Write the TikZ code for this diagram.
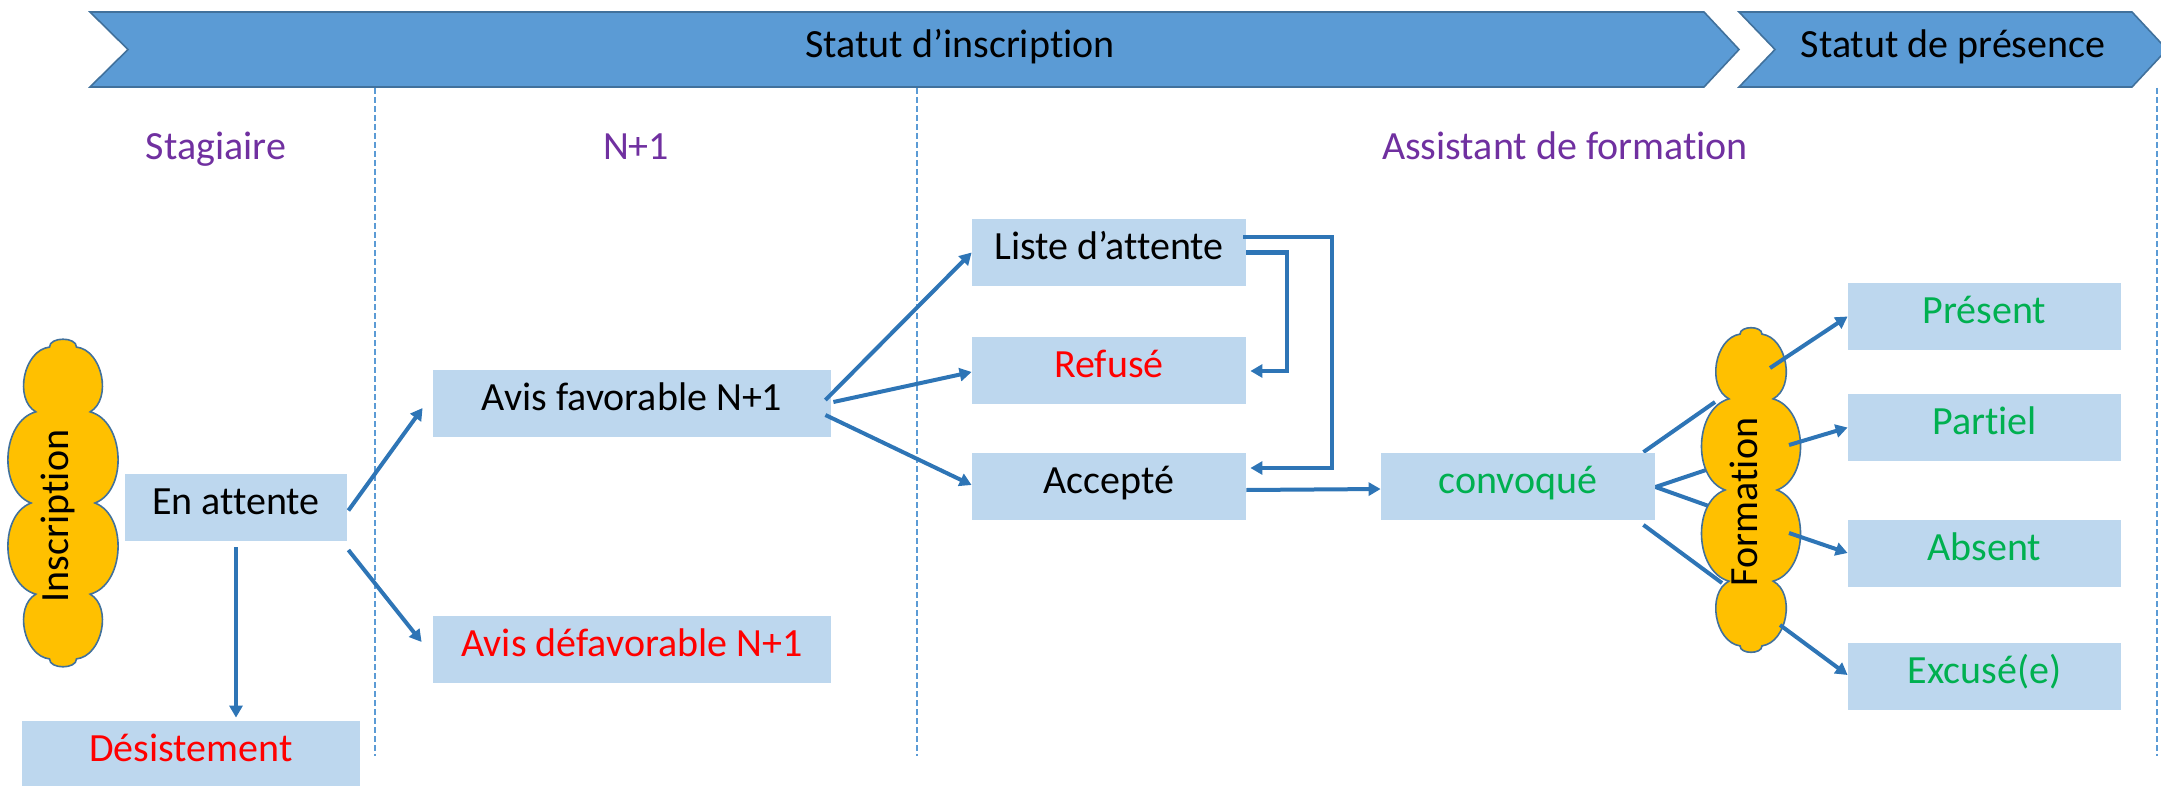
\documentclass[tikz,border=0pt]{standalone}
\usepackage{fontspec}
\setmainfont{Carlito}[Ligatures=NoCommon]
\usetikzlibrary{arrows.meta,calc,backgrounds}
\definecolor{boxblue}{HTML}{BDD7EE}
\definecolor{banblue}{HTML}{5B9BD5}
\definecolor{banedge}{HTML}{41719C}
\definecolor{arrblue}{HTML}{2E75B6}
\definecolor{purp}{HTML}{7030A0}
\definecolor{grn}{HTML}{00B050}
\definecolor{cloudfill}{HTML}{FFC000}
\newcommand\mycloud[3]{%
\begin{scope}[shift={(#1.center)}]
\filldraw[cloudstyle] ({#2*sin(-25)},{-#3*cos(-25)})
  \foreach \ang/\bb in {25/90,58/72,90/72,122/72,155/72,205/90,238/72,270/72,302/72,335/72}
  { to[bend left=\bb] ({#2*sin(\ang)},{-#3*cos(\ang)}) } -- cycle;
\end{scope}}
\begin{document}
\begin{tikzpicture}[x=0.5pt,y=-0.5pt,
  every node/.style={font=\fontsize{20}{24}\selectfont},
  stbox/.style={fill=boxblue, inner sep=0pt, minimum height=33.5pt, text height=0.72em, text depth=0pt},
  conn/.style={draw=arrblue, line width=2pt, -{Triangle[length=6pt,width=6.5pt]}},
  plainline/.style={draw=arrblue, line width=2pt},
  divider/.style={draw=banblue, line width=0.6pt, dash pattern=on 3pt off 1.5pt},
  banner/.style={fill=banblue, draw=banedge, line width=0.8pt},
  cloudstyle/.style={fill=cloudfill, draw=banedge, line width=0.8pt},
  anchorbox/.style={inner sep=0pt, minimum width=50pt, minimum height=165pt},
  vtext/.style={rotate=90, text height=0.72em, text depth=0pt, inner sep=0pt},
  hdr/.style={text=purp, text height=0.72em, text depth=0pt},
  bantext/.style={text height=0.72em, text depth=0pt}
]
\useasboundingbox (0,0) rectangle (2161,786);
% banners
\draw[banner] (90,12) -- (1704,12) -- (1739,49.5) -- (1704,87) -- (90,87) -- (128,49.5) -- cycle;
\draw[banner] (1739,12) -- (2132,12) -- (2167,49.5) -- (2132,87) -- (1739,87) -- (1775,49.5) -- cycle;
\node[bantext] (b1t) at (960,50) {Statut d’inscription};
\node[bantext] (b2t) at (1953,50) {Statut de présence};
% dividers
\draw[divider] (375,88) -- (375,756);
\draw[divider] (917,88) -- (917,756);
\draw[divider] (2157,88) -- (2157,756);
% headers
\node[hdr] (h1) at (216,152) {Stagiaire};
\node[hdr] (h2) at (636,152) {N+1};
\node[hdr] (h3) at (1565,152) {Assistant de formation};
% boxes
\node[stbox, minimum width=111pt] (att) at (236,507.5) {En attente};
\node[stbox, minimum width=169pt, text=red] (des) at (191,754.5) {Désistement};
\node[stbox, minimum width=199pt] (avf) at (632,403.5) {Avis favorable N+1};
\node[stbox, minimum width=199pt, text=red] (avd) at (632,649.5) {Avis défavorable N+1};
\node[stbox, minimum width=137pt] (lst) at (1109,252.5) {Liste d’attente};
\node[stbox, minimum width=137pt, text=red] (ref) at (1109,370) {Refusé};
\node[stbox, minimum width=137pt] (acc) at (1109,486.5) {Accepté};
\node[stbox, minimum width=137pt, text=grn] (cnv) at (1518,486) {convoqué};
\node[stbox, minimum width=136.5pt, text=grn] (pre) at (1984.5,316.5) {Présent};
\node[stbox, minimum width=136.5pt, text=grn] (par) at (1984.5,427.5) {Partiel};
\node[stbox, minimum width=136.5pt, text=grn] (abs) at (1984.5,553.5) {Absent};
\node[stbox, minimum width=136.5pt, text=grn] (exc) at (1984.5,676.5) {Excusé(e)};
% clouds
\node[anchorbox] (ins) at (63,503) {};
\mycloud{ins}{32}{172}
\node[vtext] (inst) at (61,516) {Inscription};
\node[anchorbox] (frm) at (1751,490) {};
\mycloud{frm}{26}{172}
\node[vtext] (frmt) at (1750,502) {Formation};
% connectors
\draw[conn] ($(att.east)+(1,3)$) -- ($(avf.west)+(-10,4.5)$);
\draw[conn] ($(att.east)+(1,42.5)$) -- ($(avd.west)+(-11,-7.5)$);
\draw[conn] ($(att.south)+(0,6)$) -- ($(att.south |- des.north)+(0,-3)$);
\draw[conn] ($(avf.east)+(-6,-3.5)$) -- (lst.west);
\draw[conn] ($(avf.east)+(2,-1.5)$) -- ($(ref.west)+(0,2)$);
\draw[conn] ($(avf.east)+(-6,11.5)$) -- ($(acc.west)+(0,-1.5)$);
\draw[conn] ($(lst.east)+(-3,-15.5)$) -- ++(89,0) |- ($(acc.east)+(4,-18.5)$);
\draw[conn] (lst.east) -- ++(41,0) |- ($(ref.east)+(4,1)$);
\draw[conn] ($(acc.east)+(0,3.5)$) -- ($(cnv.west)+(0,3)$);
\begin{scope}[on background layer]
\draw[plainline] ($(cnv.north east)+(-12,0)$) -- ($(frm.center)+(-36,-88)$);
\draw[plainline] ($(cnv.east)+(0,1)$) -- ($(frm.center)+(-36,-23)$);
\draw[plainline] ($(cnv.east)+(0,1)$) -- ($(frm.center)+(-34,19)$);
\draw[plainline] ($(cnv.south east)+(-12,5)$) -- ($(frm.center)+(-29,93)$);
\end{scope}
\draw[conn] ($(frm.center)+(19,-122)$) -- (pre.west);
\draw[conn] ($(frm.center)+(38,-45)$) -- (par.west);
\draw[conn] ($(frm.center)+(38,43)$) -- ($(abs.west)+(0,-0.5)$);
\draw[conn] ($(frm.center)+(29,135)$) -- ($(exc.west)+(0,-1.5)$);
\end{tikzpicture}
\end{document}
